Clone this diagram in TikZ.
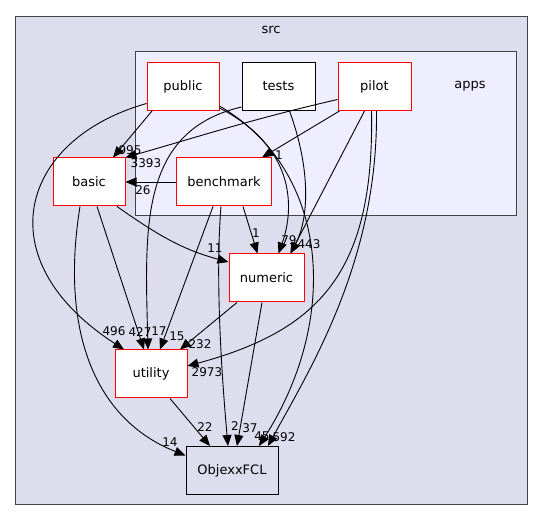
\documentclass[tikz,border=0pt]{standalone}
\usepackage{fontspec}
\setmainfont{DejaVu Sans}
\usepackage{tikz}
\usetikzlibrary{arrows.meta,positioning,calc}
\definecolor{srcfill}{HTML}{DDDDEE}
\definecolor{appsfill}{HTML}{EEEEFF}
\definecolor{framegray}{HTML}{444444}
\tikzset{
  dirA/.style={ draw=red, fill=white, line width=1pt, minimum height=48pt, font=\fontsize{13}{15}\selectfont, inner sep=0pt }
}
\tikzset{
  dirB/.style={ draw=black, line width=1pt, minimum height=48pt, font=\fontsize{13}{15}\selectfont, inner sep=0pt }
}
\tikzset{
  dep/.style={ draw=black, line width=0.9pt, -{Triangle[length=11pt,width=9pt]} },
  lbl/.style={ font=\fontsize{12}{14}\selectfont, inner sep=0pt }
}

\begin{document}
\begin{tikzpicture}[x=1pt, y=-1pt]
      \useasboundingbox (0,0) rectangle (544,521);
      % clusters
      \draw[framegray, fill=srcfill, line width=1pt] (15.5,16.5) rectangle (527,504);
      \node[font=\fontsize{13}{15}\selectfont] (srclbl) at (271,30) {src};
      \draw[framegray, fill=appsfill, line width=1pt] (135.5,52) rectangle (516.5,216);
      \node[font=\fontsize{13}{15}\selectfont] (appslbl) at (470,86) {apps};

      \node[dirA, minimum width=72pt] (public) at (183,86.5) {public};
      \node[dirB, fill=white, minimum width=73pt] (tests) at (278.5,86.5) {tests};
      \node[dirA, minimum width=73pt] (pilot) at (374.5,86.5) {pilot};
      \node[dirA, minimum width=72pt] (basic) at (89,182) {basic};
      \node[dirA, minimum width=95pt] (benchmark) at (224,182) {benchmark};
      \node[dirA, minimum width=75pt] (numeric) at (266.5,278) {numeric};
      \node[dirA, minimum width=72pt] (utility) at (151,374) {utility};
      \node[dirB, minimum width=92pt] (objexx) at (232,470.5) {ObjexxFCL};

      % into basic
      \draw[dep] ([xshift=-31pt]public.south) -- ([xshift=24pt]basic.north);
      \draw[dep] ([yshift=-13pt]pilot.west) to[out=193, in=16] (basic.north east);
      \draw[dep] (benchmark.west) -- (basic.east);
      \node[lbl] (l995) at (130,150) {995};
      \node[lbl] (l3393) at (146,163) {3393};
      \node[lbl] (l26) at (143,190) {26};

      % into benchmark
      \draw[dep] ([xshift=2pt]pilot.south west) -- ([xshift=38pt]benchmark.north);
      \node[lbl] (l1a) at (279,155) {1};

      % into numeric
      \draw[dep] ([xshift=19pt]benchmark.south) -- ([xshift=-9pt]numeric.north);
      \draw[dep] ([xshift=28pt]basic.south) to[out=-35, in=165] ([yshift=16pt]numeric.west);
      \draw[dep] ([yshift=3pt]public.south east) .. controls +(81,42) and +(14,-39) .. ([xshift=12pt]numeric.north);
      \draw[dep] ([xshift=11pt]tests.south) .. controls +(22,60) and +(18,-34) .. ([xshift=24pt]numeric.north);
      \draw[dep] ([xshift=-10pt]pilot.south) -- ([xshift=24pt]numeric.north);
      \node[lbl] (l1b) at (256,233) {1};
      \node[lbl] (l11) at (215,248) {11};
      \node[lbl] (l79) at (289,240) {79};
      \node[lbl] (l443) at (309,244) {443};

      % into utility
      \draw[dep] ([yshift=-17pt]public.west) .. controls +(-127,36) and +(-139,-90) .. ([xshift=-27pt]utility.north);
      \draw[dep] ([xshift=8pt]basic.south) -- ([xshift=-7pt]utility.north);
      \draw[dep] ([yshift=4pt]tests.south west) .. controls +(-103,24) and +(-3,-120) .. ([xshift=-3pt]utility.north);
      \draw[dep] ([xshift=-11pt]benchmark.south) -- ([xshift=9pt]utility.north);
      \draw[dep] ([xshift=-29.5pt]numeric.south) -- ([xshift=29pt]utility.north);
      \draw[dep] ([xshift=-3pt]pilot.south) .. controls +(3,160) and +(133,-36) .. ([yshift=8pt]utility.east);
      \node[lbl] (l496) at (114,331) {496};
      \node[lbl] (l427) at (140,332) {427};
      \node[lbl] (l17) at (159,331) {17};
      \node[lbl] (l15) at (177,336) {15};
      \node[lbl] (l232) at (200,344) {232};
      \node[lbl] (l2973) at (207,372) {2973};

      % into ObjexxFCL
      \draw[dep] ([xshift=19pt]utility.south) -- ([xshift=-22pt]objexx.north);
      \draw[dep] ([xshift=-3pt]benchmark.south) .. controls +(-6,74) and +(-6,-67) .. ([xshift=-4pt]objexx.north);
      \draw[dep] ([xshift=-4.5pt]numeric.south) -- ([xshift=5pt]objexx.north);
      \draw[dep] ([yshift=5pt]public.south east) .. controls +(111,65) and +(81,-127) .. ([xshift=27pt]objexx.north);
      \draw[dep] ([xshift=2pt]pilot.south) .. controls +(1.5,150) and +(42,-77) .. ([xshift=36pt]objexx.north);
      \draw[dep] ([xshift=-9pt]basic.south) .. controls +(-20,124) and +(-91,-36) .. ([yshift=15pt]objexx.west);
      \node[lbl] (l22) at (205,427) {22};
      \node[lbl] (l2) at (235,426) {2};
      \node[lbl] (l37) at (250,428) {37};
      \node[lbl] (l45) at (262,436) {45};
      \node[lbl] (l592) at (284,437) {592};
      \node[lbl] (l14) at (170,442) {14};
    \end{tikzpicture}
\end{document}
